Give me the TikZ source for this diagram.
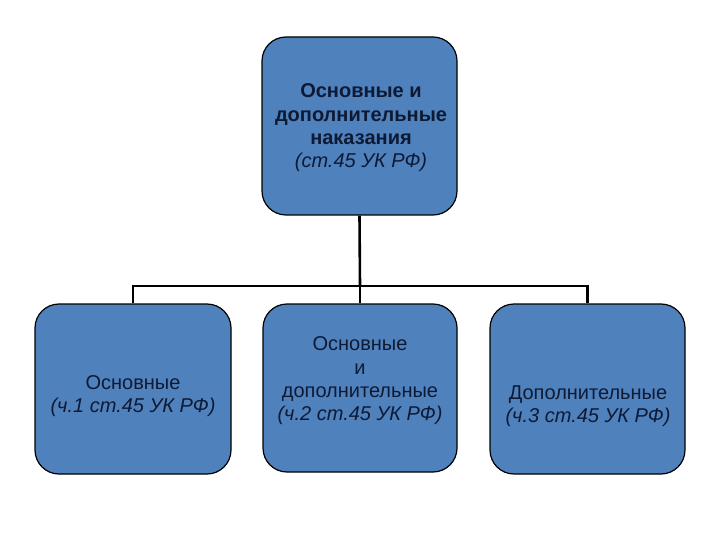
\documentclass[tikz,border=0pt]{standalone}
\usepackage{fontspec}
\setmainfont{Liberation Sans}
\definecolor{boxblue}{RGB}{79,129,189}
\definecolor{txt}{RGB}{14,26,52}
\begin{document}
\begin{tikzpicture}[x=1pt,y=-1pt,
  box/.style={draw=black,line width=1.2pt,fill=boxblue,rounded corners=24pt,inner sep=0pt},
  conn/.style={draw=black,line width=2.6pt},
  lbl/.style={text=txt,align=center,font=\fontsize{20}{23.3}\selectfont,inner sep=0pt}]
\useasboundingbox (0,0) rectangle (720,540);
\node[box,minimum width=195pt,minimum height=178pt] (top) at (359.5,126) {};
\node[box,minimum width=196pt,minimum height=170pt] (left) at (133,389) {};
\node[box,minimum width=194pt,minimum height=168pt] (mid) at (360,388) {};
\node[box,minimum width=195pt,minimum height=170pt] (right) at (587.5,389) {};
\coordinate (j) at (360,286);
\draw[conn] (top.south) -- (j);
\draw[conn] (j) -- (mid.north);
\draw[conn] (left.north) -- (left.north |- j) -- (right.north |- j) -- (right.north);
\node[lbl] (ttop) at (361,128) {\textbf{Основные и}\\\textbf{дополнительные}\\\textbf{наказания}\\\textit{(ст.45 УК РФ)}};
\node[lbl] (tleft) at (133,396) {Основные\\\textit{(ч.1 ст.45 УК РФ)}};
\node[lbl] (tmid) at (360,381) {Основные\\и\\дополнительные\\\textit{(ч.2 ст.45 УК РФ)}};
\node[lbl] (tright) at (588,406) {Дополнительные\\\textit{(ч.3 ст.45 УК РФ)}};
\end{tikzpicture}
\end{document}
